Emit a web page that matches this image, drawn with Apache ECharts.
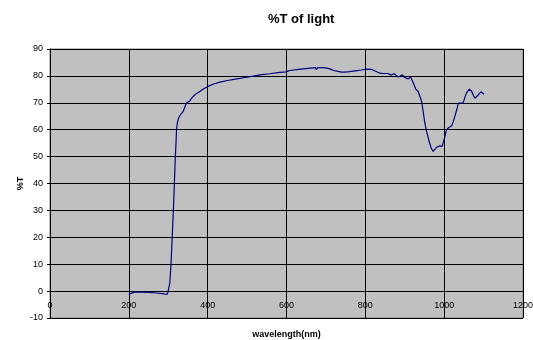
<!DOCTYPE html>
<html>
<head>
<meta charset="utf-8">
<script src="https://cdn.jsdelivr.net/npm/echarts@6/dist/echarts.min.js"></script>
<style>html,body{margin:0;padding:0;background:#fff;}#chart{width:533px;height:340px;}</style>
</head>
<body>
<div id="chart"></div>
<script>
var titleText = '%T of light';
var xAxisName = 'wavelength(nm)';
var yAxisName = '%T';

var wavelength = [200,205,215,230,250,270,290,298,301,304,307,310,313,316,318,320,321,323,326,330,334,338,341,344,347,352,355,359,363,370,380,390,400,415,431,450,474,495,516,533,558,583,600,
604,607,610,613,616,619,622,625,628,631,634,637,640,643,646,649,652,655,658,661,664,667,670,673,676,679,682,685,688,691,694,697,700,703,706,710,715,720,730,740,748,760,775,790,803,816,825,837,845,850,858,864,873,878,884,894,900,909,915,922,928,934,937,943,947,951,956,962,967,972,976,981,989,995,998,1002,1006,1012,1019,1023,1027,1032,1036,1041,1047,1050,1053,1058,1064,1070,1074,1078,1082,1087,1093,1097,1101];

var transmittance = [-1.1,-0.6,-0.4,-0.4,-0.5,-0.7,-1.0,-1.1,-0.5,3,10,20,30,42,50,56,60,62.5,64.3,65.3,66,66.8,67.5,69.2,70,70.5,70.8,71.7,72.3,73.3,74.2,75.2,76.0,77.0,77.7,78.3,78.9,79.4,79.9,80.4,80.8,81.3,81.5,
81.3,82.0,81.3,82.1,81.4,82.2,81.5,82.3,81.6,82.4,81.7,82.5,81.8,82.6,81.9,82.7,82.0,82.8,82.1,82.9,82.2,83.0,82.3,83.1,82.3,83.1,82.4,83.1,82.4,83.1,82.4,83.0,82.4,82.9,82.4,82.6,82.2,82.0,81.7,81.4,81.4,81.6,81.9,82.2,82.5,82.4,81.8,81.0,80.9,80.7,80.9,80.3,80.8,80.2,79.6,80.4,79.4,78.9,79.6,77.3,75.1,74.2,73.8,70.5,66.5,62.4,59,55.6,53.2,51.9,52.3,53.5,54,53.8,54.4,57.5,60,60.8,61.5,63,64.9,67.5,69.9,70.2,69.9,70.8,72.3,74,75.1,74.2,72.8,71.7,72.2,73,74.1,73.6,73.2];

var xMin = 0, xMax = 1200, xStep = 200;
var yMin = -10, yMax = 90, yStep = 10;

var points = wavelength.map(function (w, i) { return [w, transmittance[i]]; });

var font = 'Liberation Sans, Arial, sans-serif';
var chart = echarts.init(document.getElementById('chart'));
chart.setOption({
  animation: false,
  backgroundColor: '#ffffff',
  title: {
    text: titleText,
    left: 263, top: 8,
    textStyle: { fontFamily: font, fontSize: 13, fontWeight: 'bold', color: '#000' }
  },
  grid: {
    left: 50, right: 10, top: 49, bottom: 22,
    containLabel: false, outerBoundsMode: 'none',
    show: true, backgroundColor: '#C0C0C0', borderColor: '#808080', borderWidth: 1
  },
  xAxis: {
    type: 'value', min: xMin, max: xMax, interval: xStep,
    position: 'bottom', offset: -27,
    name: xAxisName, nameLocation: 'middle', nameGap: 39, nameMoveOverlap: false,
    nameTextStyle: { fontFamily: font, fontSize: 9, fontWeight: 'bold', color: '#000' },
    axisLine: { show: true, onZero: false, lineStyle: { color: '#000', width: 1 } },
    axisTick: { show: true, length: 3, lineStyle: { color: '#000' } },
    axisLabel: { fontFamily: font, fontSize: 9, color: '#000', margin: 10,
      formatter: function (v) { return String(v); } },
    splitLine: { show: true, lineStyle: { color: '#000', width: 1 } }
  },
  yAxis: {
    type: 'value', min: yMin, max: yMax, interval: yStep,
    name: yAxisName, nameLocation: 'middle', nameGap: 25, nameRotate: 90, nameMoveOverlap: false,
    nameTextStyle: { fontFamily: font, fontSize: 9, fontWeight: 'bold', color: '#000' },
    axisLine: { show: true, onZero: false, lineStyle: { color: '#000', width: 1 } },
    axisTick: { show: true, length: 3, lineStyle: { color: '#000' } },
    axisLabel: { fontFamily: font, fontSize: 9, color: '#000', margin: 7 },
    splitLine: { show: true, lineStyle: { color: '#000', width: 1 } }
  },
  series: [{
    type: 'line',
    data: points,
    showSymbol: false,
    symbol: 'none',
    lineStyle: { color: '#000080', width: 1.2 },
    z: 5
  }]
});
</script>
</body>
</html>
